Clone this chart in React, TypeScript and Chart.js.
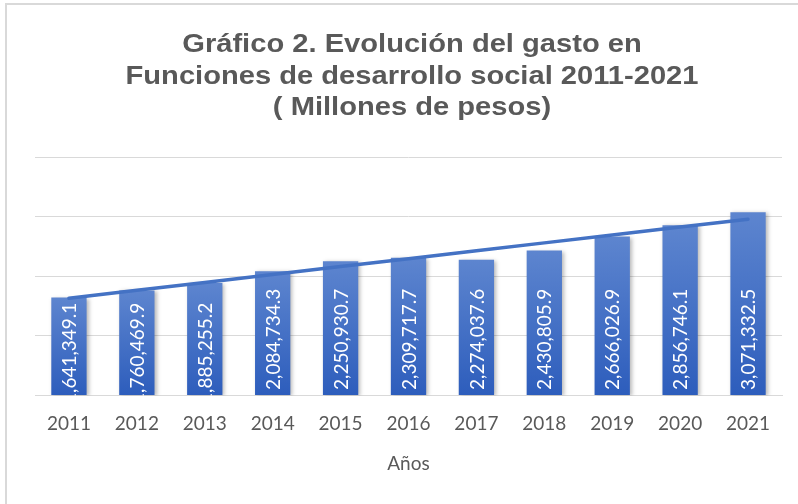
import React, { useEffect, useRef } from "react";
import { Chart, registerables } from "chart.js";

Chart.register(...registerables);

const years = ["2011", "2012", "2013", "2014", "2015", "2016", "2017", "2018", "2019", "2020", "2021"];
const gasto = [1641349.1, 1760469.9, 1885255.2, 2084734.3, 2250930.7, 2309717.7, 2274037.6, 2430805.9, 2666026.9, 2856746.1, 3071332.5];
const yMin = 0;
const yMax = 4000000;
const yStep = 1000000;
const titleLines = ["Gráfico 2. Evolución del gasto en", "Funciones de desarrollo social 2011-2021", "( Millones de pesos)"];
const xTitle = "Años";

// Linear trendline (least squares) from the series, as Excel's linear trend
function linearTrend(vals: number[]): number[] {
  const n = vals.length;
  const mx = (n - 1) / 2;
  const my = vals.reduce((a, b) => a + b, 0) / n;
  let sxy = 0, sxx = 0;
  vals.forEach((v, i) => { sxy += (i - mx) * (v - my); sxx += (i - mx) * (i - mx); });
  const slope = sxy / sxx;
  return vals.map((_, i) => my + slope * (i - mx));
}

const fmt = (v: number) => v.toLocaleString("en-US", { minimumFractionDigits: 1, maximumFractionDigits: 1 });

const titlePlugin = {
  id: "customTitle",
  afterDraw(chart: any) {
    const ctx = chart.ctx;
    const sx = 1.12;
    ctx.save();
    ctx.font = "bold 26px 'Liberation Sans'";
    ctx.fillStyle = "#595959";
    ctx.textAlign = "center";
    ctx.textBaseline = "alphabetic";
    const cx = 405;
    const baselines = [47, 78.5, 110];
    ctx.scale(sx, 1);
    titleLines.forEach((t, i) => ctx.fillText(t, cx / sx, baselines[i]));
    ctx.restore();
  },
};

const barDecor = {
  id: "barDecor",
  beforeDatasetDraw(chart: any, args: any) {
    if (args.index !== 0) return;
    const ctx = chart.ctx;
    ctx.save();
    ctx.shadowColor = "rgba(0,0,0,0.28)";
    ctx.shadowBlur = 4;
    ctx.shadowOffsetX = 2;
    ctx.shadowOffsetY = 1;
  },
  afterDatasetDraw(chart: any, args: any) {
    if (args.index !== 0) return;
    const ctx = chart.ctx;
    ctx.restore();
    const meta = chart.getDatasetMeta(0);
    const area = chart.chartArea;
    ctx.save();
    ctx.beginPath();
    ctx.rect(area.left, area.top, area.right - area.left, area.bottom - area.top);
    ctx.clip();
    ctx.font = "19px Lato";
    ctx.fillStyle = "#ffffff";
    ctx.textBaseline = "middle";
    ctx.textAlign = "left";
    meta.data.forEach((bar: any, i: number) => {
      const text = fmt(gasto[i]);
      const w = ctx.measureText(text).width;
      const h = bar.base - bar.y;
      let start = bar.base - 5;
      if (w + 14 > h) start = bar.base + 9;
      ctx.save();
      ctx.translate(bar.x + 1, start);
      ctx.rotate(-Math.PI / 2);
      ctx.fillText(text, 0, 0);
      ctx.restore();
    });
    ctx.restore();
  },
};

export default function App() {
  const ref = useRef<HTMLCanvasElement | null>(null);
  useEffect(() => {
    if (!ref.current) return;
    const trend = linearTrend(gasto);
    const chart = new Chart(ref.current, {
      type: "bar",
      data: {
        labels: years,
        datasets: [
          {
            type: "bar",
            label: "Gasto",
            data: gasto,
            order: 1,
            categoryPercentage: 1,
            barPercentage: 0.52,
            backgroundColor: (c: any) => {
              const chart = c.chart;
              if (!chart.chartArea || c.raw === undefined) return "#4472c4";
              const ys = chart.scales.y;
              const top = ys.getPixelForValue(c.raw);
              const base = ys.getPixelForValue(0);
              const g = chart.ctx.createLinearGradient(0, top, 0, base);
              g.addColorStop(0, "#5d85cf");
              g.addColorStop(1, "#2d5dbc");
              return g;
            },
            borderWidth: 0,
          } as any,
          {
            type: "line",
            label: "Lineal (Gasto)",
            data: trend,
            order: 0,
            borderColor: "#4472c4",
            borderWidth: 3.5,
            borderCapStyle: "round",
            pointRadius: 0,
            fill: false,
            tension: 0,
          } as any,
        ],
      },
      options: {
        animation: false,
        responsive: true,
        maintainAspectRatio: false,
        layout: { padding: { left: 19, right: 0, top: 152, bottom: 29 } },
        plugins: {
          legend: { display: false },
          tooltip: { enabled: false },
          title: { display: false },
        },
        scales: {
          x: {
            grid: { display: false, drawTicks: false },
            border: { display: true, color: "#d9d9d9", width: 1 },
            ticks: { color: "#595959", font: { family: "Lato", size: 19 }, padding: 17, maxRotation: 0, autoSkip: false },
            title: { display: true, text: xTitle, color: "#595959", font: { family: "Lato", size: 19 }, padding: { top: 0, bottom: 0 } },
          },
          y: {
            position: "left",
            min: yMin,
            max: yMax,
            ticks: { display: false, stepSize: yStep },
            grid: { color: "#d9d9d9", lineWidth: 1, drawTicks: false },
            border: { display: false },
            afterFit: (s: any) => { s.width = 9; },
          },
          yR: {
            position: "right",
            min: yMin,
            max: yMax,
            ticks: { display: false },
            grid: { display: false, drawTicks: false },
            border: { display: false },
            afterFit: (s: any) => { s.width = 16; },
          },
        },
      } as any,
      plugins: [barDecor, titlePlugin],
    });
    return () => chart.destroy();
  }, []);

  return (
    <div
      style={{
        position: "absolute",
        left: 5,
        top: 3,
        width: 793,
        height: 501,
        borderLeft: "2px solid #d9d9d9",
        borderTop: "2px solid #d9d9d9",
        boxSizing: "border-box",
        background: "#ffffff",
      }}
    >
      <div style={{ position: "relative", width: 791, height: 499 }}>
        <canvas ref={ref} />
      </div>
    </div>
  );
}
